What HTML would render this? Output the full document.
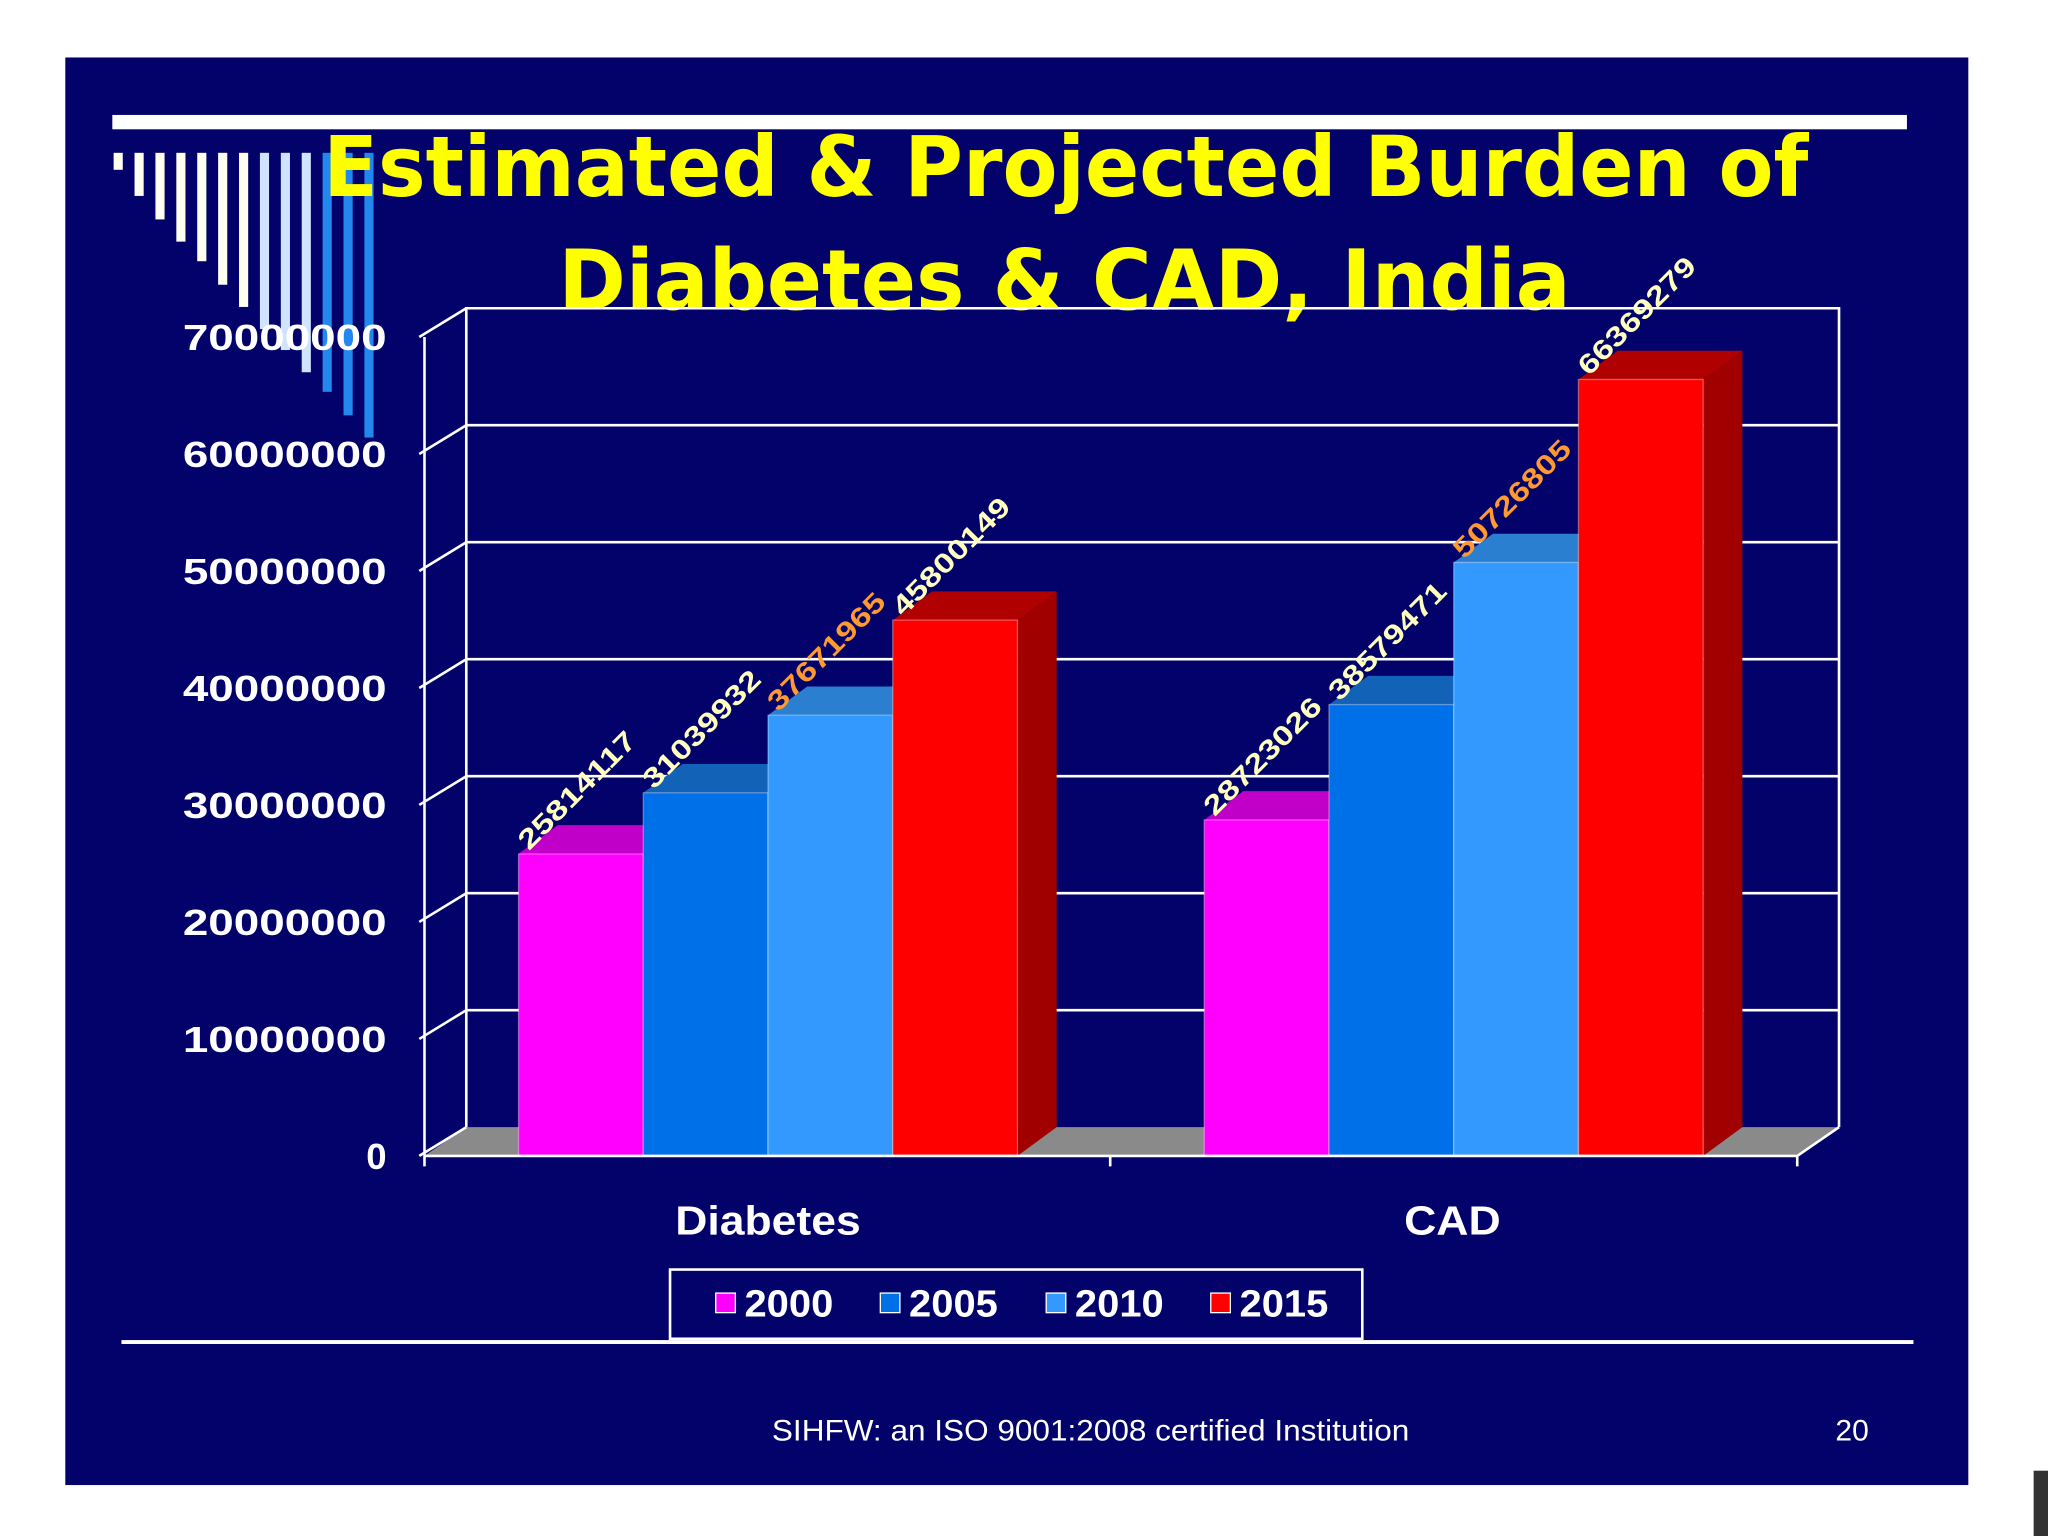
<!DOCTYPE html>
<html><head><meta charset="utf-8"><style>
html,body{margin:0;padding:0;background:#fff}
svg{display:block}
text{font-family:"Liberation Sans",Arial,sans-serif}
</style></head><body>
<svg id="chart" width="2048" height="1536" viewBox="0 0 1568 1176" xmlns="http://www.w3.org/2000/svg">
<rect x="0" y="0" width="1568" height="1176" fill="#ffffff"/>
<rect x="50" y="44" width="1457" height="1093" fill="#02026a"/>
<rect x="86" y="88" width="1374" height="11" fill="#ffffff"/>
<g id="deco"></g>
<text x="816" y="150" text-anchor="middle" fill="#ffff00" font-size="64" font-weight="bold" textLength="1137" lengthAdjust="spacingAndGlyphs" style="font-family:'DejaVu Sans',sans-serif">Estimated &amp; Projected Burden of</text>
<text x="815" y="237" text-anchor="middle" fill="#ffff00" font-size="64" font-weight="bold" textLength="775" lengthAdjust="spacingAndGlyphs" style="font-family:'DejaVu Sans',sans-serif">Diabetes &amp; CAD, India</text>
<g id="plot"></g>
<g>
<rect x="513" y="972" width="530" height="53" fill="#02026a" stroke="#ffffff" stroke-width="2"/>
<g id="legend"></g>
</g>
<rect x="93" y="1026" width="1372" height="3" fill="#ffffff"/>
<text x="835" y="1103" text-anchor="middle" fill="#ffffff" font-size="23" textLength="488" lengthAdjust="spacingAndGlyphs">SIHFW: an ISO 9001:2008 certified Institution</text>
<text x="1418" y="1103" text-anchor="middle" fill="#ffffff" font-size="23">20</text>
<rect x="1557" y="1126" width="11" height="50" fill="#333"/>
</svg>
<script>
const categories = ["Diabetes", "CAD"];
const seriesNames = ["2000", "2005", "2010", "2015"];
const s2000 = [25814117, 28723026];
const s2005 = [31039932, 38579471];
const s2010 = [37671965, 50726805];
const s2015 = [45800149, 66369279];
const yTicks = [0, 10000000, 20000000, 30000000, 40000000, 50000000, 60000000, 70000000];
const yTickLabels = ["0","10000000","20000000","30000000","40000000","50000000","60000000","70000000"];

const NS = "http://www.w3.org/2000/svg";
function mk(tag, attrs, parent){const e=document.createElementNS(NS,tag);for(const k in attrs)e.setAttribute(k,attrs[k]);parent.appendChild(e);return e;}
const series=[s2000,s2005,s2010,s2015];
const front=["#ff00ff","#0070e8","#3399ff","#ff0000"];
const topC=["#c000c8","#1262b8","#2a7fd0","#b00000"];
const sideC=["#a000a8","#0050a0","#1a60b0","#a00000"];
const labC=["#ffffc0","#ffffc0","#ff9a30","#ffffc0"];
const X0=325, Y0=885, DX=32, DY=-22, YMAX=70000000, PH=627;
const y=v=>Y0-v/YMAX*PH;
const plot=document.getElementById('plot');

const deco=document.getElementById('deco');
const decoEnd=[130,150,168,185,200,218,235,252,268,285,300,318,335];
decoEnd.forEach((e,i)=>{
  const c=i<7?"#fffff0":(i<10?"#d0e4ff":"#2288ee");
  const r=mk('rect',{x:87+i*16,y:117,width:7,height:e-117,fill:c},deco);
  
  
});

const fl=mk('polygon',{points:`${X0},${Y0} ${X0+DX},${Y0+DY} ${1408},${Y0+DY} ${1376},${Y0}`,fill:"#8a8a8a"},plot);


yTicks.forEach((t,i)=>{
  const yy=y(t);
  if(t>0){
    const g=mk('line',{x1:X0+DX,y1:yy+DY,x2:1408,y2:yy+DY,stroke:"#ffffff","stroke-width":2},plot);
    
    
  }
  const s=mk('line',{x1:X0-4,y1:yy,x2:X0+DX,y2:yy+DY,stroke:"#ffffff","stroke-width":2},plot);
  
  
  const attrs={x:296,y:yy+10,"text-anchor":"end",fill:"#ffffff","font-size":28,"font-weight":"bold"};
  if(yTickLabels[i].length>1){attrs.textLength=156;attrs.lengthAdjust="spacingAndGlyphs";}
  const lb=mk('text',attrs,plot);
  lb.textContent=yTickLabels[i];
  
  
});
const bw=mk('path',{d:`M${X0+DX},${y(0)+DY} V${y(YMAX)+DY} H1408 V${y(0)+DY}`,fill:"none",stroke:"#ffffff","stroke-width":2},plot);


const ya=mk('line',{x1:X0,y1:Y0,x2:X0,y2:y(YMAX),stroke:"#ffffff","stroke-width":2},plot);



const groupStart=[397,922], BW=95.5;
categories.forEach((cat,ci)=>{
  series.forEach((s,si)=>{
    const x=groupStart[ci]+si*BW, v=s[ci], top=y(v);
    const g=mk('g',{},plot);
    
    
    mk('polygon',{points:`${x+BW},${top} ${x+BW+DX-2},${top+DY} ${x+BW+DX-2},${Y0+DY} ${x+BW},${Y0}`,fill:sideC[si]},g);
    mk('polygon',{points:`${x},${top} ${x+DX-2},${top+DY} ${x+BW+DX-2},${top+DY} ${x+BW},${top}`,fill:topC[si]},g);
    mk('rect',{x:x,y:top,width:BW,height:Y0-top,fill:front[si],stroke:"rgba(255,255,255,0.35)","stroke-width":1},g);
    const lx=x+8, ly=top-2;
    const t=mk('text',{x:lx,y:ly,fill:labC[si],"font-size":21,"font-weight":"bold",textLength:118,lengthAdjust:"spacingAndGlyphs",transform:`rotate(-45 ${lx} ${ly})`},plot);
    t.textContent=String(v);
    
    
  });
  const cl=mk('text',{x:[588,1112][ci],y:945,"text-anchor":"middle",fill:"#ffffff","font-size":31,"font-weight":"bold",textLength:[142,74][ci],lengthAdjust:"spacingAndGlyphs"},plot);
  cl.textContent=cat;
  
  
});
const xa=mk('path',{d:`M${X0},${Y0} H1376 L1408,${Y0+DY} M${X0},${Y0} v8 M850,${Y0} v8 M1376,${Y0} v8`,fill:"none",stroke:"#ffffff","stroke-width":2},plot);



const lg=document.getElementById('legend');
const lx=[548,674,801,927];
seriesNames.forEach((n,i)=>{
  const e=mk('g',{},lg);
  
  
  mk('rect',{x:lx[i],y:990,width:15,height:15,fill:front[i],stroke:"#ffffff","stroke-width":1},e);
  const t=mk('text',{x:lx[i]+22,y:1008,fill:"#ffffff","font-size":29,"font-weight":"bold",textLength:68,lengthAdjust:"spacingAndGlyphs"},e);
  t.textContent=n;
});
</script>
</body></html>
